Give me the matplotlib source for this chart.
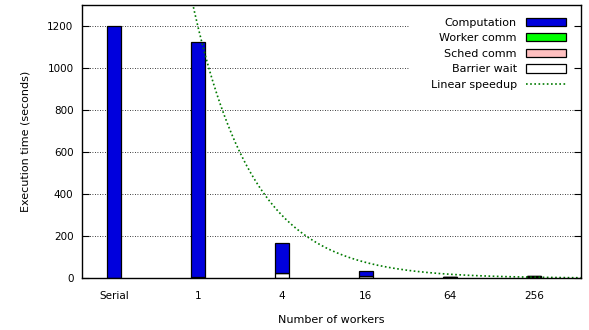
import numpy as np
import matplotlib
matplotlib.use("Agg")
import matplotlib.pyplot as plt
from matplotlib.patches import Patch
from matplotlib.lines import Line2D

# Execution time breakdown per configuration (seconds)
labels = ["Serial", "1", "4", "16", "64", "256"]
workers = [1, 1, 4, 16, 64, 256]
computation = [1200, 1120, 140, 22, 1, 0.5]
worker_comm = [0, 0, 0, 0, 0, 0]
sched_comm = [0, 5, 2, 2, 4, 8]
barrier_wait = [0, 0, 25, 8, 3, 2]
serial_time = 1200

plt.rcParams["font.family"] = "DejaVu Sans"
plt.rcParams["font.size"] = 7.5

fig = plt.figure(figsize=(5.89, 3.30), dpi=100)
ax = fig.add_axes([0.139, 0.157, 0.847, 0.828])

x = np.arange(len(labels))
width = 0.17
edge = dict(edgecolor="black", linewidth=0.9, zorder=3)

bottom = np.zeros(len(labels))
ax.bar(x, sched_comm, width, bottom=bottom, color="#ffc0c0", **edge)
bottom += sched_comm
ax.bar(x, barrier_wait, width, bottom=bottom, color="white", **edge)
bottom += barrier_wait
ax.bar(x, worker_comm, width, bottom=bottom, color="#00ff00", **edge)
bottom += worker_comm
ax.bar(x, computation, width, bottom=bottom, color="#0000dd", **edge)

# ideal curve: serial time divided by worker count, axis step is x4 workers
xs = np.linspace(-0.38, 5.56, 400)
ax.plot(xs, serial_time / 4.0 ** (xs - 1), color="#007a00", linestyle=(0, (1, 1.5)),
        linewidth=1.2, zorder=4)

yticks = list(range(0, 1201, 200))
# grid drawn by hand; the rows behind the key stop short of it
for yv in yticks[1:]:
    xmax = 0.655 if yv >= 1000 else 1.0
    ax.axhline(yv, xmax=xmax, color="black", linestyle=(0, (1, 2)),
               linewidth=0.6, zorder=1)

handles = [
    Patch(facecolor="#0000dd", edgecolor="black", linewidth=0.9),
    Patch(facecolor="#00ff00", edgecolor="black", linewidth=0.9),
    Patch(facecolor="#ffc0c0", edgecolor="black", linewidth=0.9),
    Patch(facecolor="white", edgecolor="black", linewidth=0.9),
    Line2D([], [], color="#007a00", linestyle=(0, (1, 1.5)), linewidth=1.2),
]
names = ["Computation", "Worker comm", "Sched comm", "Barrier wait", "Linear speedup"]
ax.legend(handles, names, loc="upper right", bbox_to_anchor=(0.99, 0.99),
          markerfirst=False, handlelength=3.6, handleheight=0.75,
          labelspacing=0.5, handletextpad=0.8, borderpad=0.4,
          fontsize=8, frameon=False)

ax.set_xlim(-0.38, 5.56)
ax.set_ylim(0, 1300)
ax.set_xticks(x)
ax.set_xticklabels(labels)
ax.set_yticks(yticks)
ax.tick_params(axis="x", length=0, pad=9)
ax.tick_params(axis="y", direction="in", length=5, width=0.8, right=True, pad=6)
for s in ax.spines.values():
    s.set_linewidth(1.0)
    s.set_zorder(5)

ax.set_xlabel("Number of workers", fontsize=8, labelpad=10)
ax.set_ylabel("Execution time (seconds)", fontsize=8, labelpad=12)

fig.savefig("out.png", dpi=100)
